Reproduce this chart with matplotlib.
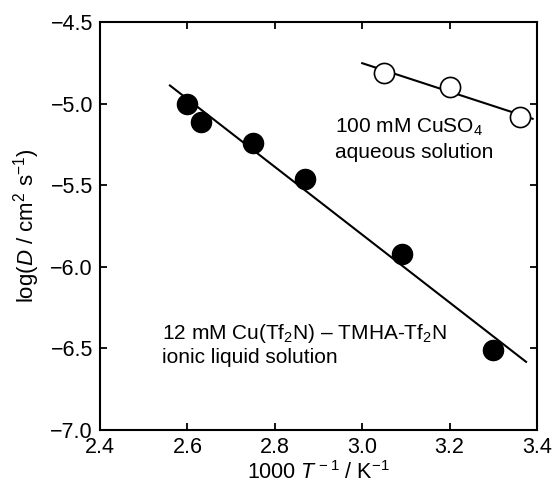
import numpy as np
import matplotlib.pyplot as plt

plt.rcParams['font.family'] = ['Liberation Sans', 'DejaVu Sans']
plt.rcParams['mathtext.fontset'] = 'custom'
plt.rcParams['mathtext.rm'] = 'Liberation Sans'
plt.rcParams['mathtext.it'] = 'Liberation Sans:italic'

# ionic liquid (filled)
x_il = [2.60, 2.63, 2.75, 2.87, 3.09, 3.30]
y_il = [-5.00, -5.11, -5.24, -5.46, -5.92, -6.51]
# aqueous CuSO4 (open)
x_aq = [3.05, 3.20, 3.36]
y_aq = [-4.81, -4.90, -5.08]

fig = plt.figure(figsize=(5.54, 4.88), dpi=100)
ax = fig.add_axes([100 / 554, 58 / 488, 437 / 554, 408 / 488])

# fit lines
p1 = np.polyfit(x_il, y_il, 1)
xl = np.array([2.56, 3.375])
ax.plot(xl, np.polyval(p1, xl), color='black', lw=1.5, zorder=1)
p2 = np.polyfit(x_aq, y_aq, 1)
xl2 = np.array([3.0, 3.39])
ax.plot(xl2, np.polyval(p2, xl2), color='black', lw=1.5, zorder=1)

ax.plot(x_il, y_il, 'o', ms=14.5, mfc='black', mec='black', zorder=2)
ax.plot(x_aq, y_aq, 'o', ms=14.5, mfc='white', mec='black', mew=1.2, zorder=2)

ax.text(2.938, -5.18, '100 mM CuSO$_4$', fontsize=15, ha='left', va='baseline')
ax.text(2.938, -5.333, 'aqueous solution', fontsize=15, ha='left', va='baseline')
ax.text(2.542, -6.442, '12 mM Cu(Tf$_2$N) \u2013 TMHA-Tf$_2$N', fontsize=15,
        ha='left', va='baseline')
ax.text(2.542, -6.589, 'ionic liquid solution', fontsize=15, ha='left', va='baseline')

ax.set_xlim(2.4, 3.4)
ax.set_ylim(-7.0, -4.5)
ax.set_xticks([2.4, 2.6, 2.8, 3.0, 3.2, 3.4])
ax.set_xticklabels(['2.4', '2.6', '2.8', '3.0', '3.2', '3.4'])
ax.set_yticks([-7.0, -6.5, -6.0, -5.5, -5.0, -4.5])
ax.set_yticklabels(['\u22127.0', '\u22126.5', '\u22126.0', '\u22125.5', '\u22125.0', '\u22124.5'])
ax.tick_params(direction='in', top=True, right=True, length=5, width=1.3,
               labelsize=15.5, pad=5)
for s in ax.spines.values():
    s.set_linewidth(1.5)

ax.set_xlabel('1000 $T$$^{\\,\u22121}$ / K$^{\u22121}$', fontsize=15.5, labelpad=2)
ax.set_ylabel('log($D$ / cm$^2$ s$^{\u22121}$)', fontsize=16, labelpad=6)

fig.savefig('out.png', dpi=100)
